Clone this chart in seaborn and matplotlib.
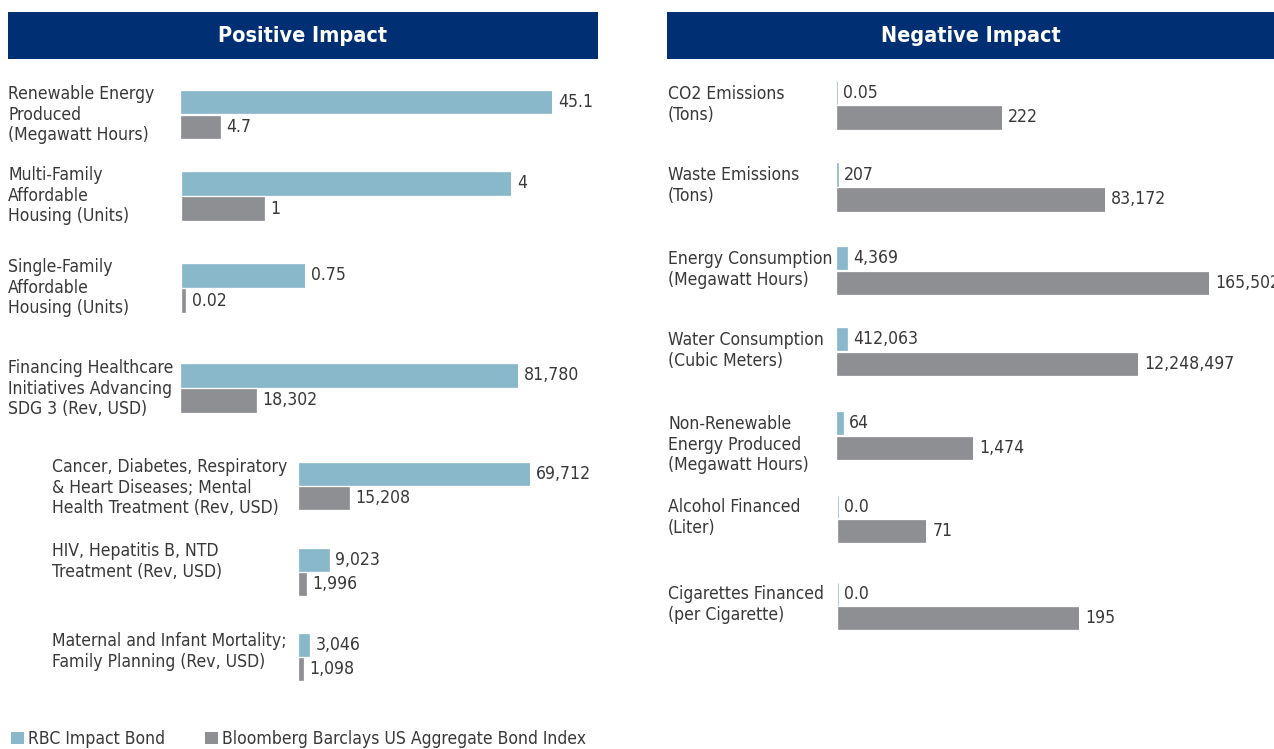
import matplotlib
matplotlib.use("Agg")
import matplotlib.pyplot as plt
from matplotlib.patches import Rectangle, Patch
import pandas as pd
import seaborn as sns

# ---------------- data ----------------
series = ["RBC Impact Bond", "Bloomberg Barclays US Aggregate Bond Index"]

left_title = "Positive Impact"
left_categories = [
    "Renewable Energy\nProduced\n(Megawatt Hours)",
    "Multi-Family\nAffordable\nHousing (Units)",
    "Single-Family\nAffordable\nHousing (Units)",
    "Financing Healthcare\nInitiatives Advancing\nSDG 3 (Rev, USD)",
    "Cancer, Diabetes, Respiratory\n& Heart Diseases; Mental\nHealth Treatment (Rev, USD)",
    "HIV, Hepatitis B, NTD\nTreatment (Rev, USD)",
    "Maternal and Infant Mortality;\nFamily Planning (Rev, USD)",
]
left_rbc = [45.1, 4, 0.75, 81780, 69712, 9023, 3046]
left_bbg = [4.7, 1, 0.02, 18302, 15208, 1996, 1098]
left_rbc_labels = ["45.1", "4", "0.75", "81,780", "69,712", "9,023", "3,046"]
left_bbg_labels = ["4.7", "1", "0.02", "18,302", "15,208", "1,996", "1,098"]

right_title = "Negative Impact"
right_categories = [
    "CO2 Emissions\n(Tons)",
    "Waste Emissions\n(Tons)",
    "Energy Consumption\n(Megawatt Hours)",
    "Water Consumption\n(Cubic Meters)",
    "Non-Renewable\nEnergy Produced\n(Megawatt Hours)",
    "Alcohol Financed\n(Liter)",
    "Cigarettes Financed\n(per Cigarette)",
]
right_rbc = [0.05, 207, 4369, 412063, 64, 0.0, 0.0]
right_bbg = [222, 83172, 165502, 12248497, 1474, 71, 195]
right_rbc_labels = ["0.05", "207", "4,369", "412,063", "64", "0.0", "0.0"]
right_bbg_labels = ["222", "83,172", "165,502", "12,248,497", "1,474", "71", "195"]

# ---------------- layout (pixels) ----------------
W, H = 1274, 749
BLUE, GRAY, NAVY, TXT = "#8AB8CB", "#8E8F93", "#003073", "#383838"
FS = 12.6

# each row: (label x, label first-line centre y, bar x0, bar top, bar bottom, scale group)
left_layout = [
    (8, 94, 181, 90, 139, 0),
    (8, 175, 182, 171, 221, 1),
    (8, 267, 182, 263, 313, 2),
    (8, 368, 181, 363, 413, 3),
    (52, 467, 299, 462, 510, 4),
    (52, 551, 299, 548, 596, 4),
    (52, 641, 299, 633, 681, 4),
]
left_spans = {0: 371, 1: 329, 2: 123, 3: 337, 4: 231}

right_layout = [
    (668, 94, 837, 80, 130, 0),
    (668, 175, 837, 162, 212, 1),
    (668, 259, 837, 246, 295, 2),
    (668, 340, 837, 327, 376, 3),
    (668, 424, 837, 411, 460, 4),
    (668, 507, 838, 495, 543, 5),
    (668, 594, 838, 582, 630, 6),
]
right_spans = {0: 165, 1: 268, 2: 372, 3: 301, 4: 136, 5: 88, 6: 241}

sns.set_theme(style="white")
plt.rcParams["font.family"] = ["DejaVu Sans"]
plt.rcParams["font.stretch"] = "condensed"

fig = plt.figure(figsize=(W / 100, H / 100), dpi=100)
fig.patch.set_facecolor("white")
palette = {series[0]: BLUE, series[1]: GRAY}


def fbox(x0, y0, x1, y1):
    return [x0 / W, 1 - y1 / H, (x1 - x0) / W, (y1 - y0) / H]


def header(x0, x1, text):
    fig.add_artist(Rectangle((x0 / W, 1 - 59 / H), (x1 - x0) / W, 47 / H,
                             transform=fig.transFigure, facecolor=NAVY,
                             edgecolor="none"))
    fig.text((x0 + x1) / 2 / W, 1 - 35.5 / H, text, color="white",
             fontsize=15.5, fontweight="bold", ha="center", va="center")


def panel(categories, rbc, bbg, rbc_labels, bbg_labels, layout, spans):
    group_max = {}
    for (lx, ly, bx, y0, y1, g), a, b in zip(layout, rbc, bbg):
        group_max[g] = max(group_max.get(g, 0), a, b)
    for i, (lx, ly, bx, y0, y1, g) in enumerate(layout):
        fig.text(lx / W, 1 - (ly - 9) / H, categories[i], ha="left", va="top",
                 fontsize=FS, color=TXT, linespacing=1.19)
        ax = fig.add_axes(fbox(bx, y0, bx + spans[g], y1))
        df = pd.DataFrame({"series": series, "value": [rbc[i], bbg[i]]})
        sns.barplot(data=df, x="value", y="series", hue="series",
                    palette=palette, order=series, hue_order=series,
                    width=0.9, saturation=1, legend=False, orient="h", ax=ax)
        for p in ax.patches:
            p.set_edgecolor(p.get_facecolor())
            p.set_linewidth(0.5)
        ax.set_xlim(0, group_max[g])
        ax.set_ylim(1.5, -0.5)
        ax.axis("off")
        for j, (v, lab) in enumerate(zip([rbc[i], bbg[i]], [rbc_labels[i], bbg_labels[i]])):
            ax.annotate(lab, xy=(v, j), xytext=(4.5, 0), textcoords="offset points",
                        ha="left", va="center", fontsize=FS, color=TXT,
                        annotation_clip=False)


header(8, 598, left_title)
header(667, 1274, right_title)
panel(left_categories, left_rbc, left_bbg, left_rbc_labels, left_bbg_labels,
      left_layout, left_spans)
panel(right_categories, right_rbc, right_bbg, right_rbc_labels, right_bbg_labels,
      right_layout, right_spans)

handles = [Patch(facecolor=BLUE, edgecolor="none"), Patch(facecolor=GRAY, edgecolor="none")]
fig.legend(handles, series, loc="lower left", bbox_to_anchor=(11 / W, 1 / H),
           ncol=2, frameon=False, fontsize=FS, handlelength=0.72,
           handleheight=0.72, handletextpad=0.25, columnspacing=2.3,
           borderpad=0, borderaxespad=0, labelcolor=TXT)

fig.savefig("out.png", dpi=100, facecolor="white")
